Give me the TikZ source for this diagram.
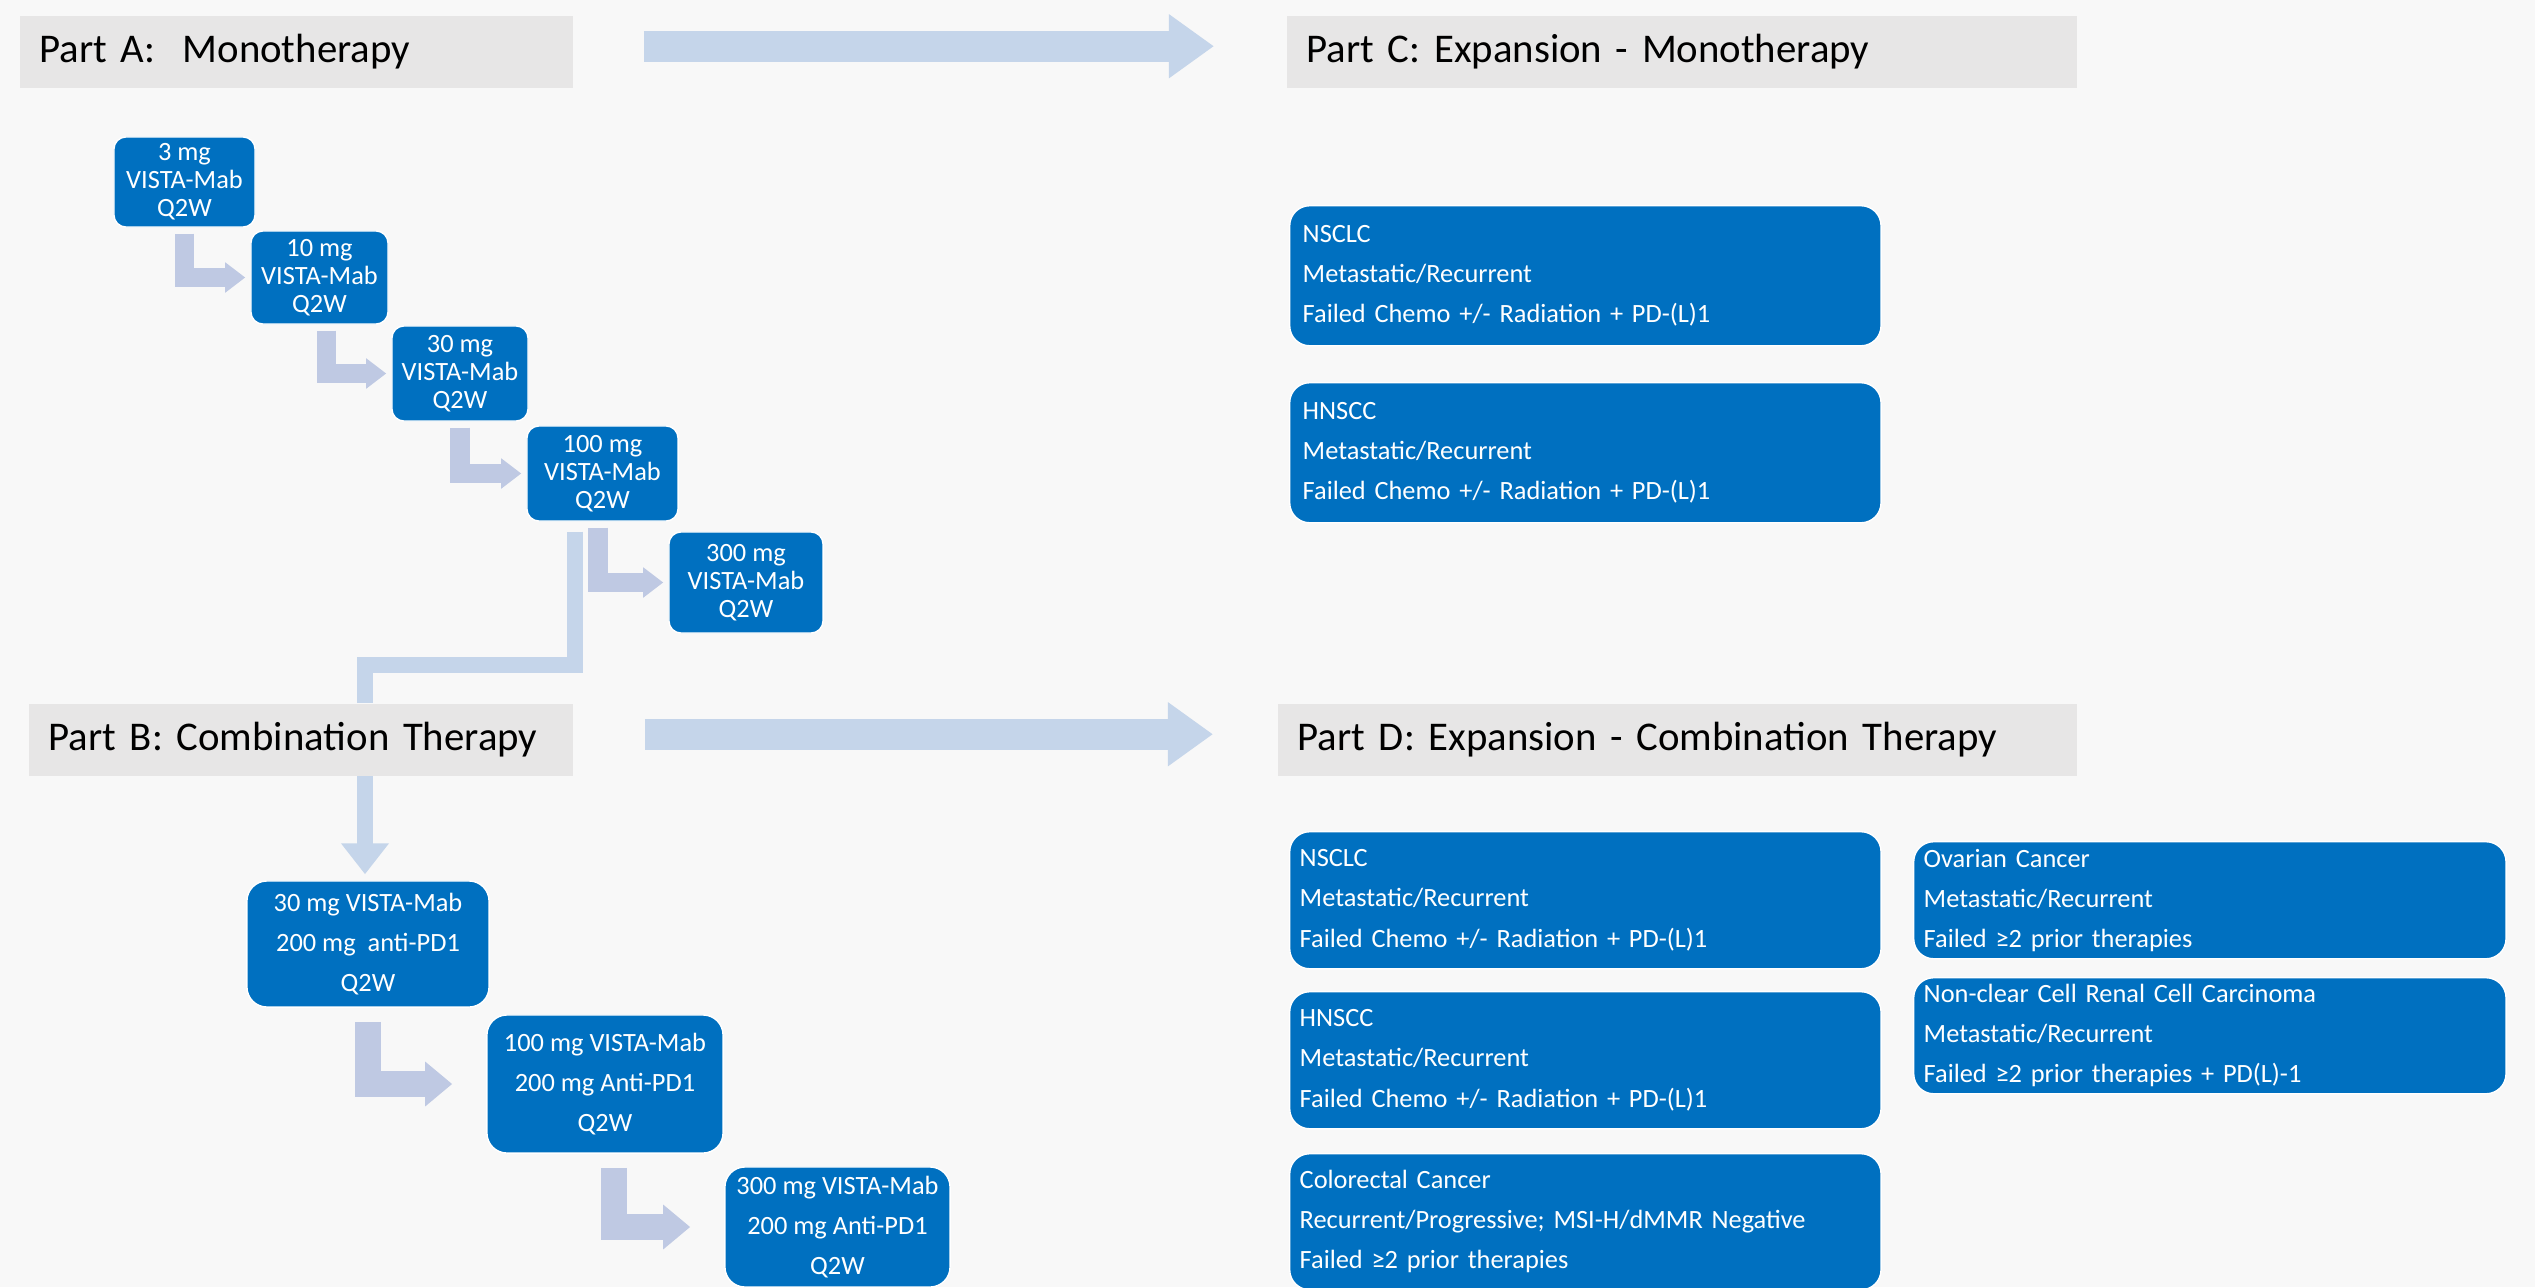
\documentclass[tikz,border=0pt]{standalone}
\usepackage{fontspec}
\setmainfont{Carlito}
\usetikzlibrary{arrows.meta,positioning}

\definecolor{pagegray}{HTML}{F8F8F8}
\definecolor{bargray}{HTML}{E7E6E6}
\definecolor{dose}{HTML}{0070C0}
\definecolor{flow}{HTML}{C5D5EA}
\definecolor{hopblue}{HTML}{BFC9E3}

\begin{document}
\begin{tikzpicture}[x=0.01cm,y=-0.01cm,line join=miter]
  \tikzstyle{part}=[fill=bargray,anchor=north west,minimum height=0.72cm,inner xsep=0.2cm,inner ysep=0pt,align=left,font=\fontsize{11.6}{14}\selectfont]
  \tikzstyle{mono}=[fill=dose,draw=white,line width=0.4pt,rounded corners=0.12cm,text=white,align=center,inner sep=1pt,font=\fontsize{7.5}{7.97}\selectfont]
  \tikzstyle{combo}=[mono,rounded corners=0.2cm,font=\fontsize{7.5}{11.4}\selectfont]
  \tikzstyle{cohort}=[combo,anchor=north west,align=left,inner xsep=0.1cm,text width=5.71cm]
  \tikzstyle{bigarrow}=[draw=flow,line width=0.31cm,-{Triangle[width=0.61cm,length=0.45cm]}]
  \tikzstyle{link}=[draw=flow,line width=0.155cm]
  \tikzstyle{hop}=[draw=hopblue,line width=0.19cm,-{Triangle[width=0.29cm,length=0.2cm]},shorten <=0.06cm,shorten >=0.05cm,to path={|- (\tikztotarget) \tikztonodes}]
  \tikzstyle{bighop}=[hop,line width=0.26cm,-{Triangle[width=0.43cm,length=0.27cm]},shorten <=0.14cm,shorten >=0.34cm]

  \useasboundingbox (0,0) rectangle (2535,1287);
  \fill[pagegray] (0,0) rectangle (2535,1287);
  \clip (0,0) rectangle (2535,1287);

  % section headers
  \node[part,text width=5.13cm] (pa) at (19,15)   {Part A:\ \ Monotherapy};
  \node[part,text width=5.04cm] (pb) at (28,703)  {Part B: Combination Therapy};
  \node[part,text width=7.5cm]  (pc) at (1286,15) {Part C: Expansion - Monotherapy};
  \node[part,text width=7.59cm] (pd) at (1277,703) {Part D: Expansion - Combination Therapy};

  % dose escalation, monotherapy
  \node[mono,minimum width=1.41cm,minimum height=0.9cm]  (m1) at (184.5,182) {3 mg\\VISTA-Mab\\Q2W};
  \node[mono,minimum width=1.37cm,minimum height=0.93cm] (m2) at (319.5,277.5) {10 mg\\VISTA-Mab\\Q2W};
  \node[mono,minimum width=1.36cm,minimum height=0.95cm] (m3) at (460,373.5) {30 mg\\VISTA-Mab\\Q2W};
  \node[mono,minimum width=1.51cm,minimum height=0.95cm] (m4) at (602.5,473.5) {100 mg\\VISTA-Mab\\Q2W};
  \node[mono,minimum width=1.54cm,minimum height=1.01cm] (m5) at (746,582.5) {300 mg\\VISTA-Mab\\Q2W};

  % dose escalation, combination
  \node[combo,minimum width=2.42cm,minimum height=1.26cm] (c30)  at (368,944)    {30 mg VISTA-Mab\\200 mg\ \ anti-PD1\\Q2W};
  \node[combo,minimum width=2.36cm,minimum height=1.38cm] (c100) at (605,1084)   {100 mg VISTA-Mab\\200 mg Anti-PD1\\Q2W};
  \node[combo,minimum width=2.25cm,minimum height=1.2cm]  (c300) at (837.5,1227) {300 mg VISTA-Mab\\200 mg Anti-PD1\\Q2W};

  % expansion cohorts
  \node[cohort,minimum height=1.4cm,inner xsep=0.13cm,text width=5.65cm] (en1) at (1289,205) {NSCLC\\Metastatic/Recurrent\\Failed Chemo +/- Radiation + PD-(L)1};
  \node[cohort,minimum height=1.4cm,inner xsep=0.13cm,text width=5.65cm] (en2) at (1289,382) {HNSCC\\Metastatic/Recurrent\\Failed Chemo +/- Radiation + PD-(L)1};
  \node[cohort,minimum height=1.37cm] (dn1) at (1289,831)  {NSCLC\\Metastatic/Recurrent\\Failed Chemo +/- Radiation + PD-(L)1};
  \node[cohort,minimum height=1.37cm] (dn2) at (1289,991)  {HNSCC\\Metastatic/Recurrent\\Failed Chemo +/- Radiation + PD-(L)1};
  \node[cohort,minimum height=1.36cm] (dn3) at (1289,1153) {Colorectal Cancer\\Recurrent/Progressive; MSI-H/dMMR Negative\\Failed ≥2 prior therapies};
  \node[cohort,minimum height=1.17cm,text width=5.72cm] (dn4) at (1913,841) {Ovarian Cancer\\Metastatic/Recurrent\\Failed ≥2 prior therapies};
  \node[cohort,minimum height=1.16cm,text width=5.72cm] (dn5) at (1913,977) {Non-clear Cell Renal Cell Carcinoma\\Metastatic/Recurrent\\Failed ≥2 prior therapies + PD(L)-1};

  \draw[bigarrow,shorten <=0.7cm,shorten >=0.72cm] ([yshift=0.055cm]pa.east) -- ([yshift=0.055cm]pc.west);
  \draw[bigarrow,shorten <=0.71cm,shorten >=0.64cm] ([yshift=0.055cm]pb.east) -- ([yshift=0.055cm]pd.west);

  \coordinate (split) at (365,665);
  \draw[link] ([xshift=-0.275cm,yshift=-0.1cm]m4.south) |- (split) -- (split |- pb.north);
  \draw[link,-{Triangle[width=0.46cm,length=0.31cm]},shorten >=0.06cm] (split |- pb.south) -- (split |- c30.north);

  \path
  (m1.south) edge[hop] (m2.west)
  ([xshift=0.07cm]m2.south) edge[hop] (m3.west)
  (m3.south) edge[hop] (m4.west)
  ([xshift=-0.045cm]m4.south) edge[hop] (m5.west)
  (c30.south) edge[bighop] (c100.west)
  ([xshift=0.09cm]c100.south) edge[bighop] (c300.west);
\end{tikzpicture}
\end{document}
